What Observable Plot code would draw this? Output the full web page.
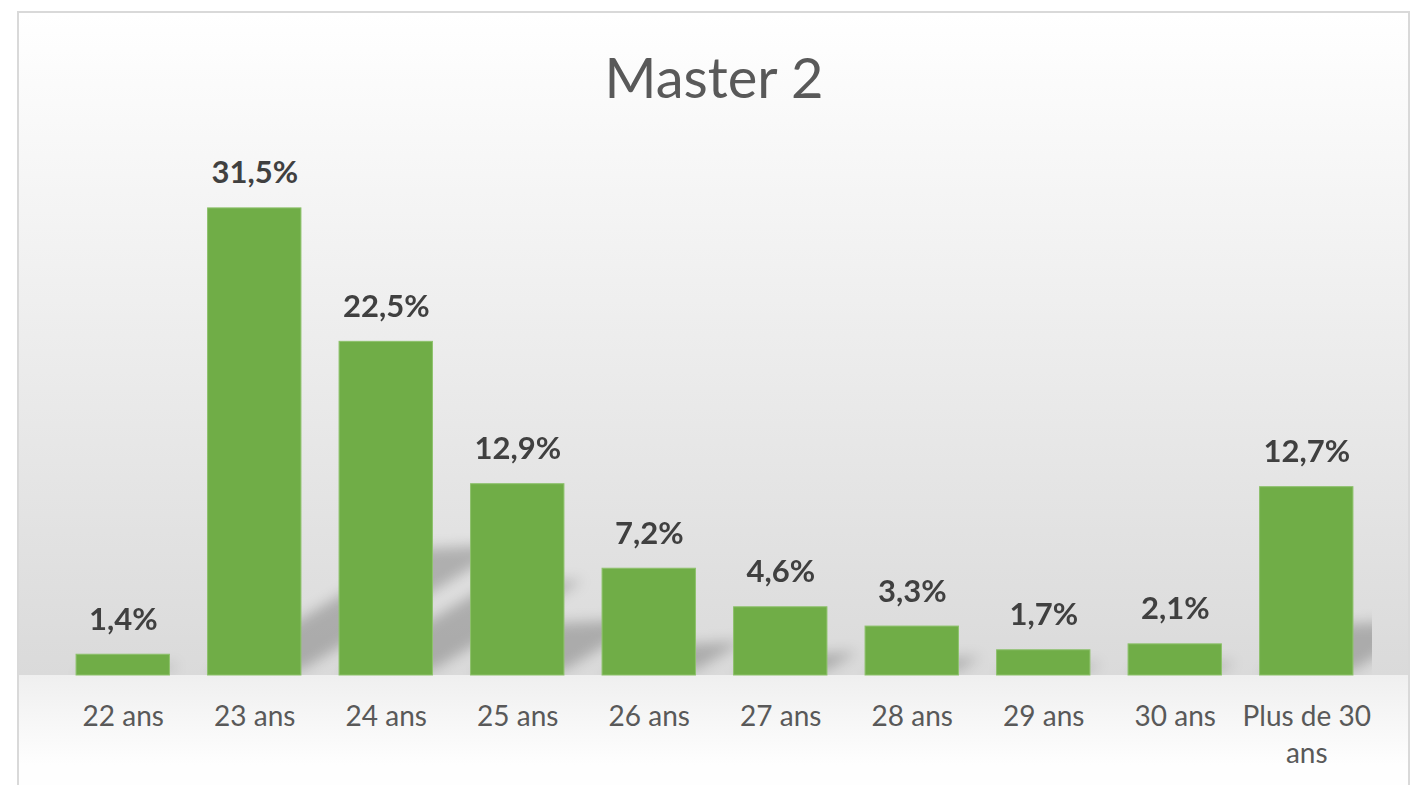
<!DOCTYPE html>
<html><head><meta charset="utf-8">
<script src="https://cdn.jsdelivr.net/npm/d3@7"></script>
<script src="https://cdn.jsdelivr.net/npm/@observablehq/plot@0.6"></script>
<style>
html,body{margin:0;padding:0;background:#fff;width:1414px;height:785px;overflow:hidden;font-family:Lato,"Open Sans",sans-serif;}
#frame{position:absolute;left:17px;top:11px;width:1389px;height:800px;border:2px solid #d9d9d9;background:linear-gradient(to bottom,#ffffff 0px,#dadada 662px,#efefef 662px,#fefefe 752px);}
#title{position:absolute;left:0;width:1428px;top:48px;text-align:center;font-size:56px;line-height:57px;color:#595959;font-family:Lato,sans-serif;font-weight:400;}
#chart{position:absolute;left:0;top:0;}
</style></head><body>
<div id="frame"></div>
<div id="title">Master 2</div>
<div id="chart"></div>
<script>
const categories = ["22 ans","23 ans","24 ans","25 ans","26 ans","27 ans","28 ans","29 ans","30 ans","Plus de 30 ans"];
const tickLabels = ["22 ans","23 ans","24 ans","25 ans","26 ans","27 ans","28 ans","29 ans","30 ans","Plus de 30\nans"];
const values = [1.4, 31.5, 22.5, 12.9, 7.2, 4.6, 3.3, 1.7, 2.1, 12.7];

const data = categories.map((c, i) => ({category: c, label: tickLabels[i], value: values[i]}));
const fmt = v => v.toFixed(1).replace(".", ",") + "%";

const plot = Plot.plot({
  width: 1414, height: 785,
  marginLeft: 57, marginRight: 42, marginTop: 156, marginBottom: 110,
  style: {background: "transparent", fontFamily: "Lato, sans-serif", overflow: "visible"},
  x: {domain: categories, paddingInner: 0.29, paddingOuter: 0.145, round: false, axis: null},
  y: {domain: [0, 35], axis: null},
  marks: [
    Plot.barY(data, {x: "category", y: "value", fill: "#000", fillOpacity: 0.22}),
    Plot.barY(data, {x: "category", y: "value", fill: "#70AD47", stroke: "#8dc16b", strokeWidth: 1}),
    Plot.text(data, {x: "category", y: "value", text: d => fmt(d.value), dy: -25, lineAnchor: "bottom", fontSize: 31, fontWeight: "bold", fill: "#404040"}),
    Plot.text(data, {x: "category", y: () => 0, text: "label", dy: 24, lineAnchor: "top", lineHeight: 1.32, fontSize: 28, fill: "#595959"})
  ]
});
document.getElementById("chart").appendChild(plot);

// perspective shadow (diagonal upper right)
const svg = d3.select(plot);
const defs = svg.insert("defs", ":first-child");
defs.append("filter").attr("id", "shblur").attr("x", "-20%").attr("y", "-20%").attr("width", "140%").attr("height", "140%")
  .append("feGaussianBlur").attr("stdDeviation", 6.5);
const base = 785 - 110;
defs.append("clipPath").attr("id", "shclip").append("rect")
  .attr("x", 57).attr("y", 0).attr("width", 1414 - 57 - 42).attr("height", base);
const shadowG = svg.selectAll("g[aria-label='bar']").nodes()[0];
const sg = d3.select(shadowG);
sg.selectAll("rect").each(function() {
  const r = d3.select(this);
  const x0 = +r.attr("x");
  const B = +r.attr("y") + +r.attr("height");
  r.attr("transform", `translate(${x0},${B}) matrix(1,-0.05,-0.45,0.27,0,0) translate(${-x0},${-B})`);
});
const wrap = svg.insert("g", () => shadowG).attr("clip-path", "url(#shclip)");
wrap.node().appendChild(shadowG);
sg.attr("filter", "url(#shblur)");
</script>
</body></html>
